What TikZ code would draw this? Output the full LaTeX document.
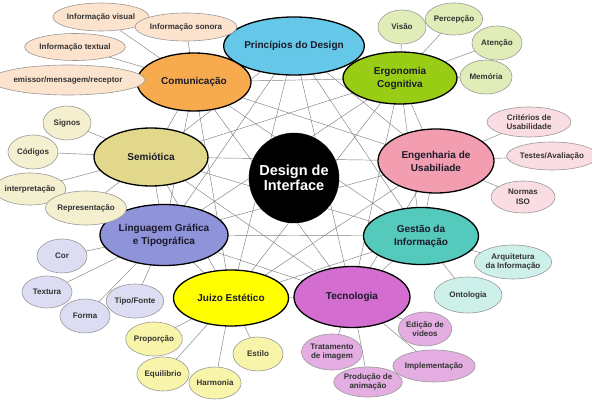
\documentclass[tikz,border=0pt]{standalone}
\usepackage{fontspec}
\setmainfont{Liberation Sans}
\usetikzlibrary{shapes.geometric,backgrounds}
\definecolor{cPrinc}{HTML}{66C8E8}
\definecolor{cComm}{HTML}{F8AA4E}
\definecolor{cErgo}{HTML}{99CC14}
\definecolor{cSemi}{HTML}{E2D88C}
\definecolor{cEng}{HTML}{F39DB0}
\definecolor{cLing}{HTML}{8F93D9}
\definecolor{cGest}{HTML}{55C9BB}
\definecolor{cJuizo}{HTML}{FFFF00}
\definecolor{cTec}{HTML}{D36DD0}
\definecolor{sComm}{HTML}{FCE3CE}
\definecolor{sSemi}{HTML}{F3EFCF}
\definecolor{sErgo}{HTML}{E1EDB8}
\definecolor{sEng}{HTML}{FADCE3}
\definecolor{sLing}{HTML}{DCDCF2}
\definecolor{sJuizo}{HTML}{F8F5AA}
\definecolor{sGest}{HTML}{CDF0EA}
\definecolor{sTec}{HTML}{E5AEE3}
\definecolor{txtDark}{HTML}{1A1A2A}
\definecolor{txtSub}{HTML}{333333}
\tikzset{
  mainnode/.style={ellipse, draw=black, line width=1.3pt, inner sep=0pt, align=center,
    font=\bfseries\fontsize{10}{13}\selectfont, text=txtDark},
  subnode/.style={ellipse, draw=gray!80, line width=0.6pt, inner sep=0pt, align=center,
    font=\bfseries\fontsize{8}{9.5}\selectfont, text=txtSub},
  web/.style={draw=black!50, line width=0.45pt},
  link/.style={draw=black!40, line width=0.6pt},
}
\begin{document}
\begin{tikzpicture}[x=1pt,y=-1pt]
\useasboundingbox (0,0) rectangle (592,403);
% main nodes
\node[mainnode, fill=cPrinc, minimum width=116, minimum height=58] (princ) at (294,46) {Princípios do Design};
\node[mainnode, fill=cComm, minimum width=114, minimum height=58] (comm) at (194,82) {Comunicação};
\node[mainnode, fill=cErgo, minimum width=114, minimum height=52] (ergo) at (400,78) {Ergonomia\\Cognitiva};
\node[mainnode, fill=cSemi, minimum width=114, minimum height=58] (semi) at (151,157) {Semiótica};
\node[mainnode, fill=cEng, minimum width=116, minimum height=64] (eng) at (436,161) {Engenharia de\\Usabiliade};
\node[mainnode, fill=cLing, minimum width=116, minimum height=61] (ling) at (164,235) {Linguagem Gráfica\\e Tipográfica};
\node[mainnode, fill=cGest, minimum width=115, minimum height=57] (gest) at (421,236) {Gestão da\\Informação};
\node[mainnode, fill=cJuizo, minimum width=115, minimum height=56] (juizo) at (231,298) {Juizo Estético};
\node[mainnode, fill=cTec, minimum width=116, minimum height=61] (tec) at (352,297) {Tecnologia};
\node[circle, fill=black, draw=black, minimum size=90, inner sep=0pt, align=center, text=white,
  font=\bfseries\fontsize{14.5}{15.5}\selectfont] (center) at (294,178) {Design de\\Interface};
% Comunicação children
\node[subnode, fill=sComm, minimum width=78, minimum height=28] (iv) at (101,17) {Informação visual};
\node[subnode, fill=sComm, minimum width=84, minimum height=28] (is) at (186,27) {Informação sonora};
\node[subnode, fill=sComm, minimum width=86, minimum height=27] (it) at (75,47) {Informação textual};
\node[subnode, fill=sComm, minimum width=126, minimum height=30] (emr) at (68,80) {emissor/mensagem/receptor};
% Semiótica children
\node[subnode, fill=sSemi, minimum width=48, minimum height=34] (sig) at (67,123) {Signos};
\node[subnode, fill=sSemi, minimum width=50, minimum height=34] (cod) at (33,152) {Códigos};
\node[subnode, fill=sSemi, minimum width=64, minimum height=32] (interp) at (30,189) {interpretação};
\node[subnode, fill=sSemi, minimum width=66, minimum height=34] (repr) at (86,208) {Representação};
% Ergonomia children
\node[subnode, fill=sErgo, minimum width=48, minimum height=34] (vis) at (402,27) {Visão};
\node[subnode, fill=sErgo, minimum width=52, minimum height=32] (perc) at (454,19) {Percepção};
\node[subnode, fill=sErgo, minimum width=50, minimum height=34] (aten) at (497,43) {Atenção};
\node[subnode, fill=sErgo, minimum width=52, minimum height=34] (mem) at (486,77) {Memória};
% Engenharia children
\node[subnode, fill=sEng, minimum width=84, minimum height=30] (crit) at (529,122) {Critérios de\\Usabilidade};
\node[subnode, fill=sEng, minimum width=76, minimum height=28] (test) at (552,156) {Testes/Avaliação};
\node[subnode, fill=sEng, minimum width=64, minimum height=32] (iso) at (523,197) {Normas\\ISO};
% Linguagem children
\node[subnode, fill=sLing, minimum width=50, minimum height=34] (cor) at (62,256) {Cor};
\node[subnode, fill=sLing, minimum width=50, minimum height=32] (text) at (47,292) {Textura};
\node[subnode, fill=sLing, minimum width=50, minimum height=34] (forma) at (85,316) {Forma};
\node[subnode, fill=sLing, minimum width=50, minimum height=34] (tipo) at (135,301) {Tipo/Fonte};
% Juizo children
\node[subnode, fill=sJuizo, minimum width=50, minimum height=34] (prop) at (154,339) {Proporção};
\node[subnode, fill=sJuizo, minimum width=50, minimum height=34] (equi) at (163,374) {Equilibrio};
\node[subnode, fill=sJuizo, minimum width=50, minimum height=32] (harm) at (215,383) {Harmonia};
\node[subnode, fill=sJuizo, minimum width=50, minimum height=34] (est) at (258,354) {Estilo};
% Gestão children
\node[subnode, fill=sGest, minimum width=68, minimum height=34] (arq) at (513,262) {Arquitetura\\da Informação};
\node[subnode, fill=sGest, minimum width=68, minimum height=36] (onto) at (468,295) {Ontologia};
% Tecnologia children
\node[subnode, fill=sTec, minimum width=52, minimum height=34] (edv) at (425,329) {Edição de\\videos};
\node[subnode, fill=sTec, minimum width=54, minimum height=36] (trat) at (332,352) {Tratamento\\de imagem};
\node[subnode, fill=sTec, minimum width=70, minimum height=32] (impl) at (434,366) {Implementação};
\node[subnode, fill=sTec, minimum width=60, minimum height=30] (prod) at (368,382) {Produção de\\animação};
% connectors
\begin{scope}[on background layer]
  \foreach \a [count=\i] in {princ,ergo,eng,gest,tec,juizo,ling,semi,comm}{
    \foreach \b [count=\j] in {princ,ergo,eng,gest,tec,juizo,ling,semi,comm}{
      \ifnum\j>\i \draw[web] (\a.center) -- (\b.center); \fi
    }
  }
  \foreach \c in {iv,is,it,emr} \draw[link] (\c.center) -- (comm.center);
  \foreach \c in {sig,cod,interp,repr} \draw[link] (\c.center) -- (semi.center);
  \foreach \c in {vis,perc,aten,mem} \draw[link] (\c.center) -- (ergo.center);
  \foreach \c in {crit,test,iso} \draw[link] (\c.center) -- (eng.center);
  \foreach \c in {cor,text,forma,tipo} \draw[link] (\c.center) -- (ling.center);
  \foreach \c in {prop,equi,harm,est} \draw[link] (\c.center) -- (juizo.center);
  \foreach \c in {arq,onto} \draw[link] (\c.center) -- (gest.center);
  \foreach \c in {edv,trat,impl,prod} \draw[link] (\c.center) -- (tec.center);
\end{scope}
\end{tikzpicture}
\end{document}
